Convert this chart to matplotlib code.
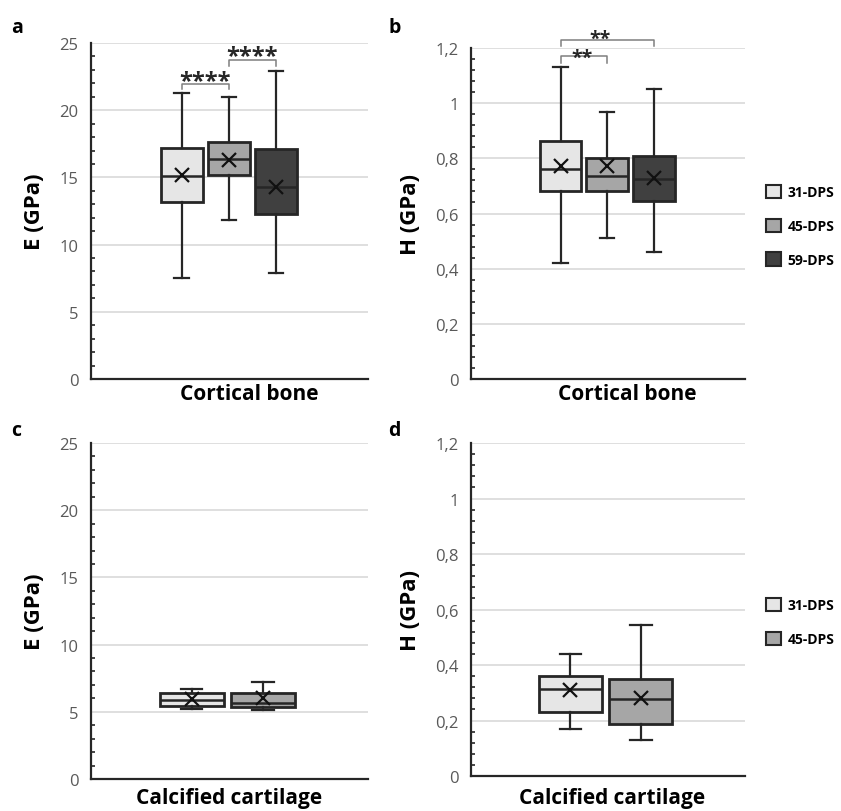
import numpy as np
import matplotlib.pyplot as plt
from matplotlib.patches import Patch

plt.rcParams['font.family'] = ['Open Sans', 'DejaVu Sans']

# groups
groups = ['31-DPS', '45-DPS', '59-DPS']
colors = ['#e6e6e6', '#a6a6a6', '#404040']
edge = '#262626'

# E (GPa), cortical bone: whisker low, Q1, median, Q3, whisker high, mean
E_bone_lo = [7.5, 11.8, 7.9]
E_bone_q1 = [13.2, 15.2, 12.3]
E_bone_med = [15.1, 16.4, 14.3]
E_bone_q3 = [17.2, 17.6, 17.1]
E_bone_hi = [21.3, 21.0, 22.9]
E_bone_mean = [15.15, 16.3, 14.3]

# H (GPa), cortical bone
H_bone_lo = [0.42, 0.51, 0.46]
H_bone_q1 = [0.68, 0.68, 0.645]
H_bone_med = [0.76, 0.737, 0.725]
H_bone_q3 = [0.862, 0.80, 0.81]
H_bone_hi = [1.13, 0.967, 1.052]
H_bone_mean = [0.774, 0.771, 0.73]

# E (GPa), calcified cartilage
E_cart_lo = [5.21, 5.14]
E_cart_q1 = [5.41, 5.34]
E_cart_med = [5.88, 5.64]
E_cart_q3 = [6.41, 6.41]
E_cart_hi = [6.70, 7.25]
E_cart_mean = [5.96, 6.03]

# H (GPa), calcified cartilage
H_cart_lo = [0.169, 0.130]
H_cart_q1 = [0.231, 0.187]
H_cart_med = [0.313, 0.277]
H_cart_q3 = [0.359, 0.351]
H_cart_hi = [0.439, 0.545]
H_cart_mean = [0.309, 0.280]

E_ticks = ['0', '5', '10', '15', '20', '25']
H_ticks = ['0', '0,2', '0,4', '0,6', '0,8', '1', '1,2']

fig = plt.figure(figsize=(8.41, 8.12), dpi=100)


def box_panel(ax, lo, q1, med, q3, hi, mean, ymax, major, minor, ticklabels, ylabel, xlabel, xl_x, xl_y):
    n = len(lo)
    if n == 3:
        pos = [0.327, 0.497, 0.667]
        w = 0.152
    else:
        pos = [0.363, 0.620]
        w = 0.231
    stats = []
    for i in range(n):
        stats.append(dict(whislo=lo[i], q1=q1[i], med=med[i], q3=q3[i],
                          whishi=hi[i], mean=mean[i], fliers=[]))
    bp = ax.bxp(stats, positions=pos, widths=w, patch_artist=True, showmeans=True,
                meanprops=dict(marker='x', markeredgecolor='#111111', markersize=10, markeredgewidth=1.6),
                medianprops=dict(color=edge, linewidth=1.8),
                whiskerprops=dict(color=edge, linewidth=1.6),
                capprops=dict(color=edge, linewidth=1.6),
                boxprops=dict(edgecolor=edge, linewidth=2.0))
    for patch, c in zip(bp['boxes'], colors):
        patch.set_facecolor(c)
    for cap in bp['caps']:
        m = cap.get_xdata().mean()
        cap.set_xdata([m - w * 0.17, m + w * 0.17])
    ax.set_xlim(0, 1)
    ax.set_ylim(0, ymax)
    ax.set_yticks(major)
    ax.set_yticklabels(ticklabels)
    ax.set_yticks(minor, minor=True)
    ax.tick_params(axis='y', which='major', length=0, labelsize=12, labelcolor='#595959', pad=9)
    ax.tick_params(axis='y', which='minor', direction='in', length=3, width=1.2, color='#262626')
    ax.set_xticks([])
    ax.grid(axis='y', color='#d9d9d9', linewidth=1.2)
    ax.set_axisbelow(True)
    for s in ['top', 'right']:
        ax.spines[s].set_visible(False)
    for s in ['left', 'bottom']:
        ax.spines[s].set_color('#262626')
        ax.spines[s].set_linewidth(1.6)
    ax.set_ylabel(ylabel, fontsize=16, fontweight='bold', labelpad=10)
    ax.set_xlabel(xlabel, fontsize=15, fontweight='bold', va='top')
    ax.xaxis.set_label_coords(xl_x, xl_y)
    return pos


def bracket(ax, x1, x2, y, drop, text, ty, tx=None, size=17):
    ax.plot([x1, x1, x2, x2], [y - drop, y, y, y - drop], color='#7f7f7f', linewidth=1.1, clip_on=False)
    if tx is None:
        tx = (x1 + x2) / 2
    ax.text(tx, ty, text, ha='center', va='center', fontsize=size, fontweight='bold',
            color='#262626', clip_on=False)


ax_a = fig.add_axes([0.1082, 0.532, 0.3294, 0.4138])
pa = box_panel(ax_a, E_bone_lo, E_bone_q1, E_bone_med, E_bone_q3, E_bone_hi, E_bone_mean,
               25, np.arange(0, 26, 5), np.arange(0, 26, 1), E_ticks,
               'E (GPa)', 'Cortical bone', 0.57, -0.012)
bracket(ax_a, pa[0], pa[1], 21.97, 0.4, '****', 22.2)
bracket(ax_a, pa[1], pa[2], 23.76, 0.45, '****', 24.0)

ax_b = fig.add_axes([0.560, 0.532, 0.3258, 0.4076])
pb = box_panel(ax_b, H_bone_lo, H_bone_q1, H_bone_med, H_bone_q3, H_bone_hi, H_bone_mean,
               1.2, np.linspace(0, 1.2, 7), np.linspace(0, 1.2, 31), H_ticks,
               'H (GPa)', 'Cortical bone', 0.57, -0.012)
bracket(ax_b, pb[0], pb[1], 1.171, 0.024, '**', 1.163, tx=0.405, size=14)
bracket(ax_b, pb[0], pb[2], 1.230, 0.024, '**', 1.232, tx=0.47, size=14)

ax_c = fig.add_axes([0.1082, 0.0394, 0.3294, 0.4138])
box_panel(ax_c, E_cart_lo, E_cart_q1, E_cart_med, E_cart_q3, E_cart_hi, E_cart_mean,
          25, np.arange(0, 26, 5), np.arange(0, 26, 1), E_ticks,
          'E (GPa)', 'Calcified cartilage', 0.5, -0.024)

ax_d = fig.add_axes([0.560, 0.0431, 0.3258, 0.4101])
box_panel(ax_d, H_cart_lo, H_cart_q1, H_cart_med, H_cart_q3, H_cart_hi, H_cart_mean,
          1.2, np.linspace(0, 1.2, 7), np.linspace(0, 1.2, 31), H_ticks,
          'H (GPa)', 'Calcified cartilage', 0.515, -0.033)

# legends, placed right of panels b and d
for ax, k in [(ax_b, 3), (ax_d, 2)]:
    handles = [Patch(facecolor=colors[i], edgecolor=edge, linewidth=1.5, label=groups[i]) for i in range(k)]
    ax.legend(handles=handles, loc='center left', bbox_to_anchor=(1.055, 0.463),
              frameon=False, prop=dict(weight='bold', size=10), handlelength=1.1, handleheight=1.1,
              labelspacing=1.4, handletextpad=0.5, borderaxespad=0)

# panel letters
for x, y, s in [(0.013, 0.965, 'a'), (0.462, 0.965, 'b'), (0.013, 0.469, 'c'), (0.462, 0.469, 'd')]:
    fig.text(x, y, s, fontsize=14, fontweight='bold', ha='left', va='center')

fig.savefig('out.png', dpi=100)
